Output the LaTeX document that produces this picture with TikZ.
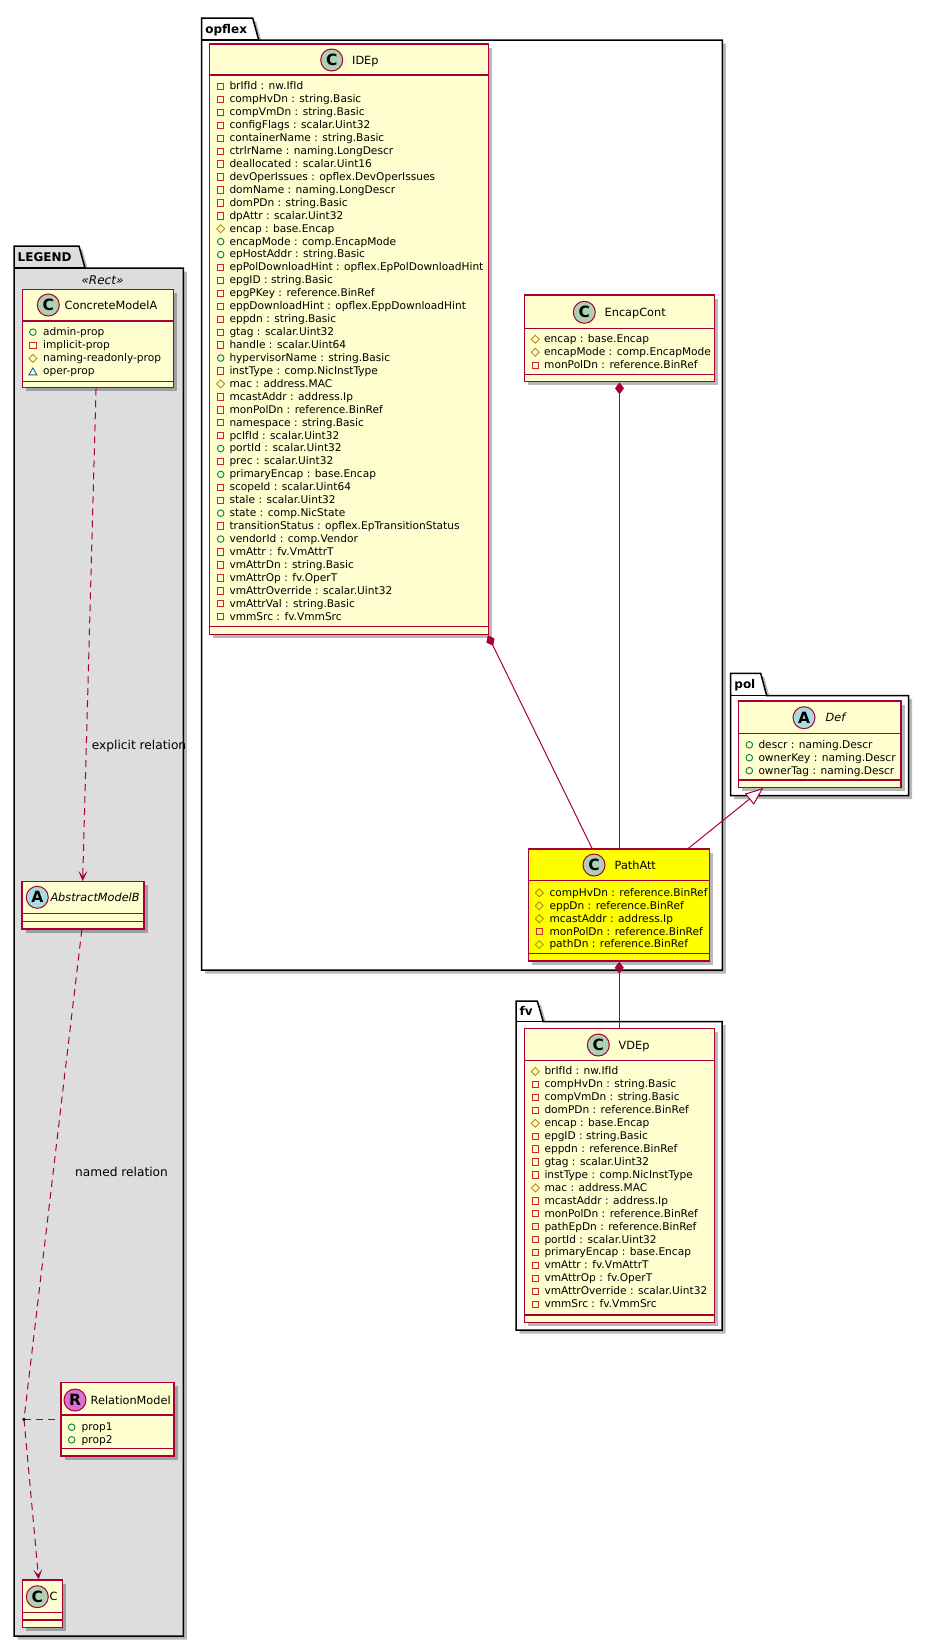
\documentclass[tikz,border=0pt]{standalone}
\usepackage{fontspec}
\setmainfont{DejaVu Sans}
\usetikzlibrary{arrows.meta,shadows,fit,calc}
\definecolor{bord}{HTML}{A80036}
\definecolor{cfill}{HTML}{FEFECE}
\definecolor{cgreen}{HTML}{ADD1B2}
\definecolor{cblue}{HTML}{A9DCDF}
\definecolor{cmag}{HTML}{DA70D6}
\definecolor{vpriv}{HTML}{C82930}
\definecolor{vprot}{HTML}{B38D22}
\definecolor{vpub}{HTML}{038048}
\definecolor{vpkg}{HTML}{1963A0}
\definecolor{legfill}{HTML}{DDDDDD}
\definecolor{pathyellow}{HTML}{FFFF00}
\tikzset{
  shad/.style={drop shadow={shadow xshift=3.5pt,shadow yshift=-3.5pt,opacity=0.28,fill=black}},
  clsbox/.style={draw=bord, line width=1.3pt, fill=cfill, inner sep=0pt, shad},
  sepline/.style={draw=bord, line width=1.1pt},
  circ/.style={circle, draw=bord, line width=1pt, minimum size=22pt, inner sep=0pt, font=\fontsize{15.5}{15.5}\selectfont\bfseries},
  cname/.style={anchor=base west, inner sep=0pt, font=\fontsize{11.3}{13}\selectfont},
  cnamei/.style={anchor=base west, inner sep=0pt, font=\fontsize{11.3}{13}\selectfont\itshape},
  attr/.style={anchor=base west, inner sep=0pt, font=\fontsize{10.6}{12.9}\selectfont},
  pkgshape/.style={draw=black, line width=1.5pt, shad},
  pkgtab/.style={anchor=base west, inner sep=0pt, font=\fontsize{12}{14}\selectfont\bfseries},
  lbl/.style={anchor=base west, inner sep=0pt, font=\fontsize{12.2}{14}\selectfont},
  rel/.style={draw=bord, line width=1pt},
  dsh/.style={rel, dash pattern=on 7pt off 5pt},
  deparrow/.style={-{Stealth[length=10pt,width=9pt,inset=5pt]}},
  compo/.style={{Diamond[length=12pt,width=9pt]}-},
  inherit/.style={-{Triangle[length=18pt,width=14pt,fill=white]}},
}
% class box: #1 name, #2 x1, #3 y1, #4 x2, #5 y2, #6 extra
\newcommand\umlclass[6]{\node[clsbox, fit={(#2,#3) (#4,#5)}, #6] (#1) {};}
\newcommand\sepl[3]{\draw[sepline] (#1,#3) -- (#2,#3);}
\newcommand\visicon[3]{%
  \if r#1\draw[vpriv,line width=0.9pt] ({#2-3.2},{#3+0.5-3.2}) rectangle ({#2+3.2},{#3+0.5+3.2});\fi
  \if d#1\draw[vprot,line width=0.9pt] ({#2-4},{#3+0.5}) -- (#2,{#3+0.5-4}) -- ({#2+4},{#3+0.5}) -- (#2,{#3+0.5+4}) -- cycle;\fi
  \if o#1\draw[vpub,line width=0.9pt] (#2,{#3+0.5}) circle[radius=3.3];\fi
  \if t#1\draw[vpkg,line width=0.9pt] ({#2-4},{#3+0.5+3.3}) -- ({#2+4},{#3+0.5+3.3}) -- (#2,{#3+0.5-3.6}) -- cycle;\fi}
% #1 prefix, #2 icon x, #3 text x, #4 first y, #5 list, #6 step
\newcommand\attrlist[6]{%
  \foreach \v/\t [count=\i from 0] in {#5} {
    \pgfmathsetmacro\yy{#4+\i*#6}
    \visicon{\v}{#2}{\yy}
    \node[attr] (#1-\i) at (#3,\yy+3.9) {\t};
  }}
% package: #1 node, #2 x1, #3 ytab, #4 tabR, #5 ybody, #6 x2, #7 y2, #8 fill, #9 label
\newcommand\umlpkg[9]{%
  \draw[pkgshape, fill=#8] (#2,#3) -- ({#4-6},#3) -- (#4,#5) -- (#6,#5) -- (#6,#7) -- (#2,#7) -- cycle;
  \draw[line width=1.5pt] (#2,#5) -- (#4,#5);
  \node[pkgtab] (#1) at ({#2+3.5},{(#3+#5)/2+4.4}) {#9};}

\begin{document}
\begin{tikzpicture}[x=1pt,y=-1pt]
\fill[white] (0,0) rectangle (929,1647);
\useasboundingbox (0,0) rectangle (929,1647);

% packages
\umlpkg{legendpkg}{14}{246}{85}{268}{183.3}{1636}{legfill}{LEGEND}
\umlpkg{opflexpkg}{201.7}{18}{258.7}{40}{722.3}{970}{white}{opflex}
\umlpkg{polpkg}{730.7}{673.3}{766.7}{695.7}{908.5}{795.7}{white}{pol}
\umlpkg{fvpkg}{516}{1001}{543.3}{1021.7}{722}{1330}{white}{fv}
\node[anchor=base, inner sep=0pt, font=\fontsize{12}{14}\selectfont\itshape] (rectst) at (102.5,284.4) {«Rect»};

% IDEp
\umlclass{idep}{209.3}{44}{488.7}{634.5}{}
\sepl{209.3}{488.7}{75}
\sepl{209.3}{488.7}{626.8}
\node[circ, fill=cgreen] (idep-c) at (331.7,60) {C};
\node[cname] (idep-n) at (352,64.1) {IDEp};
\attrlist{idep-a}{220.7}{229.3}{86}{r/brIfId : nw.IfId,r/compHvDn : string.Basic,r/compVmDn : string.Basic,r/configFlags : scalar.Uint32,r/containerName : string.Basic,r/ctrlrName : naming.LongDescr,r/deallocated : scalar.Uint16,r/devOperIssues : opflex.DevOperIssues,r/domName : naming.LongDescr,r/domPDn : string.Basic,r/dpAttr : scalar.Uint32,d/encap : base.Encap,o/encapMode : comp.EncapMode,o/epHostAddr : string.Basic,r/epPolDownloadHint : opflex.EpPolDownloadHint,r/epgID : string.Basic,r/epgPKey : reference.BinRef,r/eppDownloadHint : opflex.EppDownloadHint,r/eppdn : string.Basic,r/gtag : scalar.Uint32,r/handle : scalar.Uint64,o/hypervisorName : string.Basic,r/instType : comp.NicInstType,d/mac : address.MAC,r/mcastAddr : address.Ip,r/monPolDn : reference.BinRef,r/namespace : string.Basic,r/pcIfId : scalar.Uint32,o/portId : scalar.Uint32,r/prec : scalar.Uint32,o/primaryEncap : base.Encap,r/scopeId : scalar.Uint64,r/stale : scalar.Uint32,o/state : comp.NicState,r/transitionStatus : opflex.EpTransitionStatus,o/vendorId : comp.Vendor,r/vmAttr : fv.VmAttrT,r/vmAttrDn : string.Basic,r/vmAttrOp : fv.OperT,r/vmAttrOverride : scalar.Uint32,r/vmAttrVal : string.Basic,r/vmmSrc : fv.VmmSrc}{12.93}

% EncapCont
\umlclass{encap}{524.3}{295}{714.7}{381.7}{}
\sepl{524.3}{714.7}{328.3}
\sepl{524.3}{714.7}{374.3}
\node[circ, fill=cgreen] (encap-c) at (584.3,312.3) {C};
\node[cname] (encap-n) at (604.5,316.4) {EncapCont};
\attrlist{encap-a}{535.3}{544}{338.8}{d/encap : base.Encap,d/encapMode : comp.EncapMode,r/monPolDn : reference.BinRef}{12.93}

% Def
\umlclass{def}{738.3}{701}{901}{787.3}{}
\sepl{738.3}{901}{733.3}
\sepl{738.3}{901}{780}
\node[circ, fill=cblue] (def-c) at (804,717.7) {A};
\node[cnamei] (def-n) at (825.5,721.8) {Def};
\attrlist{def-a}{749.3}{758.3}{744.3}{o/descr : naming.Descr,o/ownerKey : naming.Descr,o/ownerTag : naming.Descr}{12.93}

% PathAtt
\umlclass{path}{528.3}{849}{709.3}{961}{fill=pathyellow}
\sepl{528.3}{709.3}{880.7}
\sepl{528.3}{709.3}{953.5}
\node[circ, fill=cgreen] (path-c) at (594,865) {C};
\node[cname] (path-n) at (614.5,869.1) {PathAtt};
\attrlist{path-a}{539.3}{549.3}{892.3}{d/compHvDn : reference.BinRef,d/eppDn : reference.BinRef,d/mcastAddr : address.Ip,r/monPolDn : reference.BinRef,d/pathDn : reference.BinRef}{12.93}

% VDEp
\umlclass{vdep}{524.3}{1028.3}{714.3}{1322.3}{}
\sepl{524.3}{714.3}{1060.7}
\sepl{524.3}{714.3}{1315}
\node[circ, fill=cgreen] (vdep-c) at (598.3,1045) {C};
\node[cname] (vdep-n) at (618.5,1049.1) {VDEp};
\attrlist{vdep-a}{535.3}{544.3}{1071}{d/brIfId : nw.IfId,r/compHvDn : string.Basic,r/compVmDn : string.Basic,r/domPDn : reference.BinRef,d/encap : base.Encap,r/epgID : string.Basic,r/eppdn : reference.BinRef,r/gtag : scalar.Uint32,r/instType : comp.NicInstType,d/mac : address.MAC,r/mcastAddr : address.Ip,r/monPolDn : reference.BinRef,r/pathEpDn : reference.BinRef,r/portId : scalar.Uint32,r/primaryEncap : base.Encap,r/vmAttr : fv.VmAttrT,r/vmAttrOp : fv.OperT,r/vmAttrOverride : scalar.Uint32,r/vmmSrc : fv.VmmSrc}{12.93}

% Legend classes
\umlclass{cma}{22.7}{289.3}{173.3}{387.7}{}
\sepl{22.7}{173.3}{321}
\sepl{22.7}{173.3}{381.7}
\node[circ, fill=cgreen] (cma-c) at (48.3,305) {C};
\node[cname] (cma-n) at (64.5,309.1) {ConcreteModelA};
\attrlist{cma-a}{32.9}{43}{331.7}{o/admin-prop,r/implicit-prop,d/naming-readonly-prop,t/oper-prop}{13.1}

\umlclass{amb}{22}{881.7}{144}{929}{}
\sepl{22}{144}{913.7}
\sepl{22}{144}{921.3}
\node[circ, fill=cblue] (amb-c) at (37.3,897.3) {A};
\node[cnamei] (amb-n) at (50.3,901.4) {AbstractModelB};

\umlclass{relm}{61}{1382.7}{174}{1456}{}
\sepl{61}{174}{1415}
\sepl{61}{174}{1448.3}
\node[circ, fill=cmag] (relm-c) at (75,1400) {R};
\node[cname] (relm-n) at (90.5,1404.1) {RelationModel};
\attrlist{relm-a}{71.7}{81.5}{1426.7}{o/prop1,o/prop2}{12.6}

\umlclass{cc}{22.7}{1580}{62.3}{1627.7}{}
\sepl{22.7}{62.3}{1612.7}
\sepl{22.7}{62.3}{1620}
\node[circ, fill=cgreen] (cc-c) at (37.3,1596.7) {C};
\node[cname] (cc-n) at (49.5,1600.8) {C};

% connectors
\draw[dsh, deparrow] ($(cma.south west)+(74,0)$) -- ($(amb.north west)+(61.3,0)$);
\coordinate (dot) at (24,1419.3);
\draw[dsh] ($(amb.south west)+(60.5,0)$) -- (dot);
\draw[dsh, deparrow] (dot) -- ($(cc.north west)+(16.6,0)$);
\draw[dsh] (dot) -- (relm.west |- dot);
\fill[black] (dot) circle[radius=1.8];

\draw[rel, compo] ($(idep.south east)+(-1.5,0)$) -- ($(path.north west)+(64.4,0)$);
\draw[rel, compo] (encap.south) -- (encap.south |- path.north);
\draw[rel, inherit] ($(path.north west)+(160.7,0)$) -- ($(def.south west)+(25.7,0)$);
\draw[rel, compo] (vdep.north |- path.south) -- (vdep.north);

% labels
\node[lbl] (lab1) at (91.7,749.4) {explicit relation};
\node[lbl] (lab2) at (75,1176.4) {named relation};
\end{tikzpicture}
\end{document}
